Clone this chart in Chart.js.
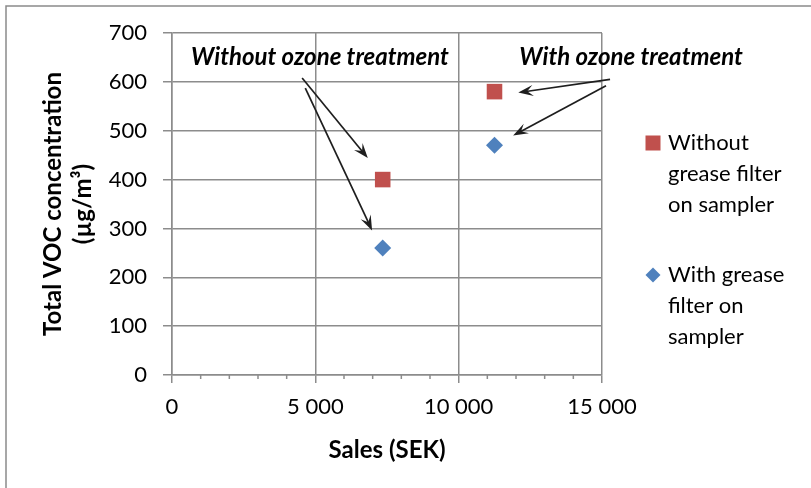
<!DOCTYPE html>
<html>
<head>
<meta charset="utf-8">
<script src="https://cdn.jsdelivr.net/npm/chart.js@4.4.1/dist/chart.umd.min.js"></script>
<style>
  html, body { margin: 0; padding: 0; background: #ffffff; }
  #wrap { width: 811px; height: 488px; position: relative; }
</style>
</head>
<body>
<div id="wrap"><canvas id="c"></canvas></div>
<script>
// ---- data ----
const seriesNames = ['Without grease filter on sampler', 'With grease filter on sampler'];
const legendLines = [['Without', 'grease filter', 'on sampler'], ['With grease', 'filter on', 'sampler']];
const salesSEK = [7350, 11250];
const vocWithoutFilter = [400, 580];
const vocWithFilter = [260, 470];
const xTickValues = [0, 5000, 10000, 15000];
const yTickValues = [0, 100, 200, 300, 400, 500, 600, 700];
const groupLabels = ['Without ozone treatment', 'With ozone treatment'];

// ---- annotation placement (value coordinates) ----
const groupLabelAt = [[5163, 651], [16012, 651]];
const arrows = [
  [[4540, 608], [6830, 444]],
  [[4650, 587], [6980, 296]],
  [[15280, 605], [12080, 578]],
  [[15140, 592], [11900, 490]]
];

const FONT = 'Lato, "Open Sans", sans-serif';
const GRID = '#8c8c8c';
const RED = '#C0504D';
const BLUE = '#4F81BD';

const fmt = v => String(v).replace(/\B(?=(\d{3})+(?!\d))/g, ' ');

function arrow(ctx, x0, y0, x1, y1) {
  const ang = Math.atan2(y1 - y0, x1 - x0);
  const c = Math.cos(ang), s = Math.sin(ang);
  const len = 15, half = 5.5;
  const bx = x1 - len * c, by = y1 - len * s;
  ctx.beginPath();
  ctx.moveTo(x0, y0);
  ctx.lineTo(x1 - 6 * c, y1 - 6 * s);
  ctx.stroke();
  ctx.beginPath();
  ctx.moveTo(x1, y1);
  ctx.lineTo(bx + half * s, by - half * c);
  ctx.lineTo(x1 - 9 * c, y1 - 9 * s);
  ctx.lineTo(bx - half * s, by + half * c);
  ctx.closePath();
  ctx.fill();
}

const overlay = {
  id: 'overlay',
  beforeDraw(chart) {
    const ctx = chart.ctx;
    ctx.save();
    ctx.strokeStyle = '#8a8a8a';
    ctx.lineWidth = 1.5;
    ctx.beginPath();
    ctx.moveTo(6, 900);
    ctx.lineTo(6, 6);
    ctx.lineTo(900, 6);
    ctx.stroke();
    ctx.restore();
  },
  afterDraw(chart) {
    const ctx = chart.ctx;
    const xs = chart.scales.x, ys = chart.scales.y;
    const area = chart.chartArea;
    ctx.save();

    // minor tick marks along the x axis
    ctx.strokeStyle = GRID;
    ctx.lineWidth = 1.5;
    for (let v = 1000; v < 15000; v += 1000) {
      if (v % 5000 === 0) continue;
      const px = xs.getPixelForValue(v);
      ctx.beginPath();
      ctx.moveTo(px, area.bottom);
      ctx.lineTo(px, area.bottom + 4);
      ctx.stroke();
    }

    // group captions
    ctx.fillStyle = '#000000';
    ctx.font = 'italic bold 24px ' + FONT;
    ctx.textAlign = 'center';
    ctx.textBaseline = 'middle';
    groupLabels.forEach((t, i) => {
      ctx.fillText(t, xs.getPixelForValue(groupLabelAt[i][0]), ys.getPixelForValue(groupLabelAt[i][1]));
    });

    // pointer arrows
    ctx.strokeStyle = '#1e1e1e';
    ctx.fillStyle = '#1e1e1e';
    ctx.lineWidth = 1.7;
    arrows.forEach(a => {
      arrow(ctx,
        xs.getPixelForValue(a[0][0]), ys.getPixelForValue(a[0][1]),
        xs.getPixelForValue(a[1][0]), ys.getPixelForValue(a[1][1]));
    });

    // legend
    const lx = area.right + 51;
    const tx = area.right + 66;
    const lineH = 31;
    const tops = [143, 275];
    ctx.font = '22px ' + FONT;
    ctx.textAlign = 'left';
    ctx.textBaseline = 'middle';
    chart.data.datasets.forEach((ds, i) => {
      const y0 = tops[i];
      ctx.fillStyle = ds.backgroundColor;
      if (ds.pointStyle === 'rect') {
        ctx.fillRect(lx - 7.5, y0 - 7.5, 15, 15);
      } else {
        ctx.beginPath();
        ctx.moveTo(lx, y0 - 7.5);
        ctx.lineTo(lx + 7.5, y0);
        ctx.lineTo(lx, y0 + 7.5);
        ctx.lineTo(lx - 7.5, y0);
        ctx.closePath();
        ctx.fill();
      }
      ctx.fillStyle = '#000000';
      legendLines[i].forEach((line, k) => ctx.fillText(line, tx, y0 + k * lineH));
    });
    ctx.restore();
  }
};

new Chart(document.getElementById('c'), {
  type: 'scatter',
  data: {
    datasets: [
      {
        label: seriesNames[0],
        data: salesSEK.map((x, i) => ({ x, y: vocWithoutFilter[i] })),
        pointStyle: 'rect',
        pointRadius: 11,
        backgroundColor: RED,
        borderColor: RED,
        borderWidth: 0
      },
      {
        label: seriesNames[1],
        data: salesSEK.map((x, i) => ({ x, y: vocWithFilter[i] })),
        pointStyle: 'rectRot',
        pointRadius: 8.5,
        backgroundColor: BLUE,
        borderColor: BLUE,
        borderWidth: 0
      }
    ]
  },
  options: {
    responsive: true,
    maintainAspectRatio: false,
    animation: false,
    layout: { padding: { left: 0, top: 33, right: 209, bottom: 0 } },
    plugins: { legend: { display: false }, tooltip: { enabled: false } },
    scales: {
      x: {
        type: 'linear',
        min: 0,
        max: 15000,
        afterBuildTicks: s => { s.ticks = xTickValues.map(v => ({ value: v })); },
        afterFit: s => { s.height = 113; },
        border: { color: GRID, width: 1.5 },
        grid: { color: GRID, lineWidth: 1.5, tickLength: 8, tickColor: GRID },
        ticks: { color: '#000', font: { family: FONT, size: 22 }, padding: 11, callback: v => fmt(v) },
        title: {
          display: true, text: 'Sales (SEK)', color: '#000',
          font: { family: FONT, size: 24, weight: 'bold', lineHeight: '28px' },
          padding: { top: 0, bottom: 24 }
        }
      },
      y: {
        type: 'linear',
        min: 0,
        max: 700,
        afterBuildTicks: s => { s.ticks = yTickValues.map(v => ({ value: v })); },
        afterFit: s => { s.width = 172; },
        border: { color: GRID, width: 1.5 },
        grid: { color: GRID, lineWidth: 1.5, tickLength: 9, tickColor: GRID },
        ticks: { color: '#000', font: { family: FONT, size: 22 }, padding: 16 },
        title: {
          display: true, text: ['Total VOC concentration', '(\u00B5g/m\u00B3)'], color: '#000',
          font: { family: FONT, size: 24, weight: 'bold', lineHeight: '30px' },
          padding: { top: 38, bottom: 0 }
        }
      }
    }
  },
  plugins: [overlay]
});
</script>
</body>
</html>
